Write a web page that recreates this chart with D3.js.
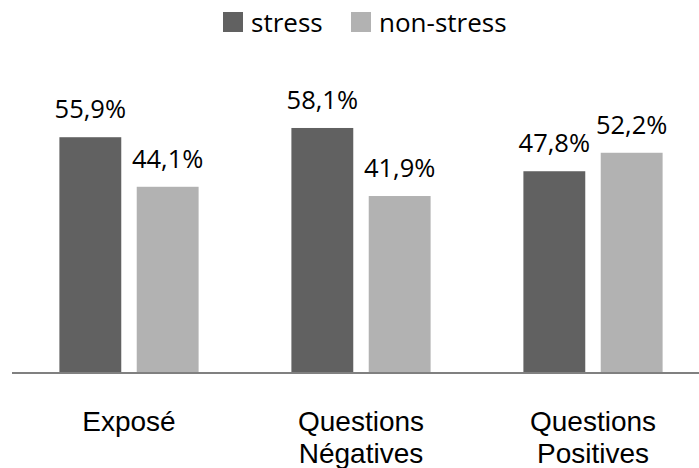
<!DOCTYPE html>
<html>
<head>
<meta charset="utf-8">
<script src="https://cdn.jsdelivr.net/npm/d3@7"></script>
<style>
  html, body { margin: 0; padding: 0; background: #fff; }
  svg { display: block; font-family: "Open Sans", sans-serif; }
</style>
</head>
<body>
<svg id="chart" width="699" height="468"></svg>
<script>
// Categories (each entry is split over lines), series and their values in %
const categories = ["Exposé", "Questions Négatives", "Questions Positives"];
const categoryLines = [["Exposé"], ["Questions", "Négatives"], ["Questions", "Positives"]];
const seriesNames = ["stress", "non-stress"];
const stressValues = [55.9, 58.1, 47.8];
const nonStressValues = [44.1, 41.9, 52.2];
const seriesColors = ["#616161", "#b2b2b2"];

const data = categories.map((c, i) => ({
  category: c,
  values: [
    { series: seriesNames[0], value: stressValues[i] },
    { series: seriesNames[1], value: nonStressValues[i] }
  ]
}));

const svg = d3.select("#chart");
const W = 699;

const x0 = d3.scaleBand().domain(categories).range([13, 709]);
const x1 = d3.scaleBand().domain(seriesNames)
  .range([0, x0.bandwidth()])
  .paddingInner(0.2)
  .paddingOuter(0.6);
const y = d3.scaleLinear().domain([0, 70]).range([372, 78]);
const color = d3.scaleOrdinal().domain(seriesNames).range(seriesColors);
const fmt = v => d3.format(".1f")(v).replace(".", ",") + "%";

// Bars with value labels
const groups = svg.append("g").selectAll("g")
  .data(data).join("g")
  .attr("transform", d => `translate(${x0(d.category)},0)`);

groups.selectAll("rect")
  .data(d => d.values).join("rect")
  .attr("x", d => x1(d.series))
  .attr("y", d => y(d.value))
  .attr("width", x1.bandwidth())
  .attr("height", d => y(0) - y(d.value))
  .attr("fill", d => color(d.series));

groups.selectAll("text")
  .data(d => d.values).join("text")
  .attr("x", d => x1(d.series) + x1.bandwidth() / 2)
  .attr("y", d => y(d.value) - 19)
  .attr("text-anchor", "middle")
  .attr("font-size", 25.5)
  .attr("fill", "#000")
  .text(d => fmt(d.value));

// Category axis along the baseline
const axis = svg.append("g")
  .attr("transform", `translate(0,${y(0) + 1})`)
  .call(d3.axisBottom(x0).tickSize(0).tickSizeOuter(0).tickFormat(""));
axis.select(".domain")
  .attr("d", `M12,0H${W}`)
  .attr("stroke", "#808080")
  .attr("stroke-width", 2);

axis.selectAll(".tick text").remove();
axis.selectAll(".tick").append("text")
  .attr("text-anchor", "middle")
  .attr("font-size", 28)
  .attr("fill", "#000")
  .each(function(d, i) {
    const t = d3.select(this);
    categoryLines[i].forEach((line, k) => {
      t.append("tspan").attr("x", 0).attr("y", 58 + k * 32).text(line);
    });
  });

// Legend
const legendX = [223, 351];
const legend = svg.append("g").selectAll("g")
  .data(seriesNames).join("g")
  .attr("transform", (d, i) => `translate(${legendX[i]},12)`);
legend.append("rect")
  .attr("width", 20).attr("height", 20)
  .attr("fill", d => color(d));
legend.append("text")
  .attr("x", 28).attr("y", 20)
  .attr("font-size", 26)
  .attr("fill", "#000")
  .text(d => d);
</script>
</body>
</html>
